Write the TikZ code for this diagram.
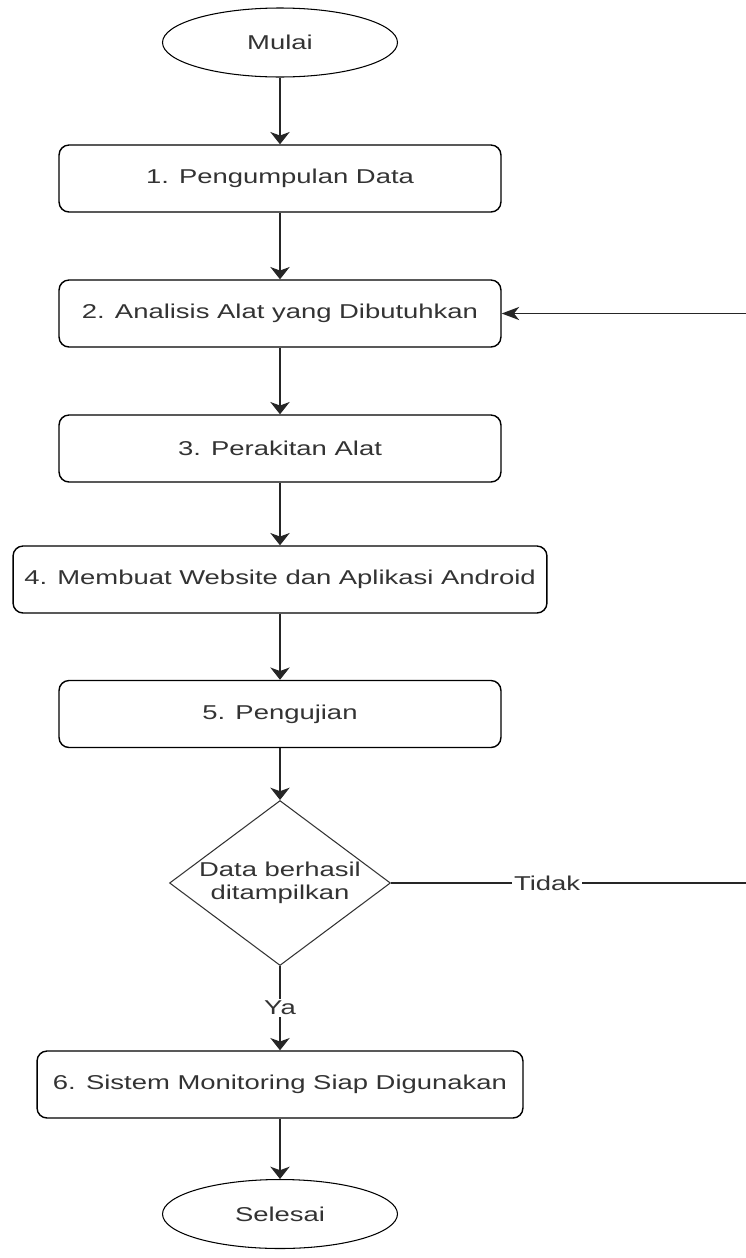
\documentclass[tikz,border=0pt]{standalone}
\usepackage{fontspec}
\setmainfont{Liberation Sans}[FakeStretch=1.37]
\usetikzlibrary{shapes.geometric, arrows.meta}

\begin{document}
\begin{tikzpicture}[x=0.02cm, y=-0.02cm, line width=0.8pt,
		font=\fontsize{11.4}{13.4}\selectfont, text=black!80,
		terminal/.style={draw, ellipse, line width=0.6pt, minimum width=4.7cm, minimum height=1.38cm, inner sep=0pt},
		langkah/.style={draw, rounded corners=2mm, minimum height=1.34cm},
		keputusan/.style={draw=black!80, diamond, line width=0.6pt, minimum width=4.42cm, minimum height=3.3cm, inner sep=0pt},
		panah/.style={draw=black!85, -{Stealth[length=7pt, width=11pt, inset=2pt]}},
		balik/.style={draw=black!85, -{Stealth[length=10pt, width=7.5pt, inset=3pt]}},
		ket/.style={fill=white, inner sep=1pt}]
		\useasboundingbox (0, 0) rectangle (746, 1258);
		\node[terminal] (mulai) at (280, 42.5) {Mulai};
		\node[langkah, minimum width=8.84cm] (kumpul) at (280, 178.5) {1. Pengumpulan Data};
		\node[langkah, minimum width=8.84cm] (analisis) at (280, 313.5) {2. Analisis Alat yang Dibutuhkan};
		\node[langkah, minimum width=8.84cm] (rakit) at (280, 448.5) {3. Perakitan Alat};
		\node[langkah, minimum width=10.68cm] (aplikasi) at (280, 579.5) {4. Membuat Website dan Aplikasi Android};
		\node[langkah, minimum width=8.84cm] (uji) at (280, 714) {5. Pengujian};
		\node[keputusan, label={[align=center]center:Data berhasil\\ditampilkan}] (cek) at (280, 883) {};
		\node[langkah, minimum width=9.72cm] (siap) at (280, 1084.5) {6. Sistem Monitoring Siap Digunakan};
		\node[terminal] (selesai) at (280, 1214) {Selesai};
		\coordinate (kanan) at (754, 883);
		\draw[panah] (mulai.south) to[out=-90, in=90] (kumpul.north);
		\draw[panah] (kumpul.south) to[out=-90, in=90] (analisis.north);
		\draw[panah] (analisis.south) to[out=-90, in=90] (rakit.north);
		\draw[panah] (rakit.south) to[out=-90, in=90] (aplikasi.north);
		\draw[panah] (aplikasi.south) to[out=-90, in=90] (uji.north);
		\draw[panah] (uji.south) to[out=-90, in=90] (cek.north);
		\draw[panah] (cek.south) -- node[ket] {Ya} (siap.north);
		\draw[panah] (siap.south) to[out=-90, in=90] (selesai.north);
		\draw[balik] (cek.east) -- node[ket, pos=0.43] {Tidak} (kanan) |- (analisis.east);
	\end{tikzpicture}
\end{document}
